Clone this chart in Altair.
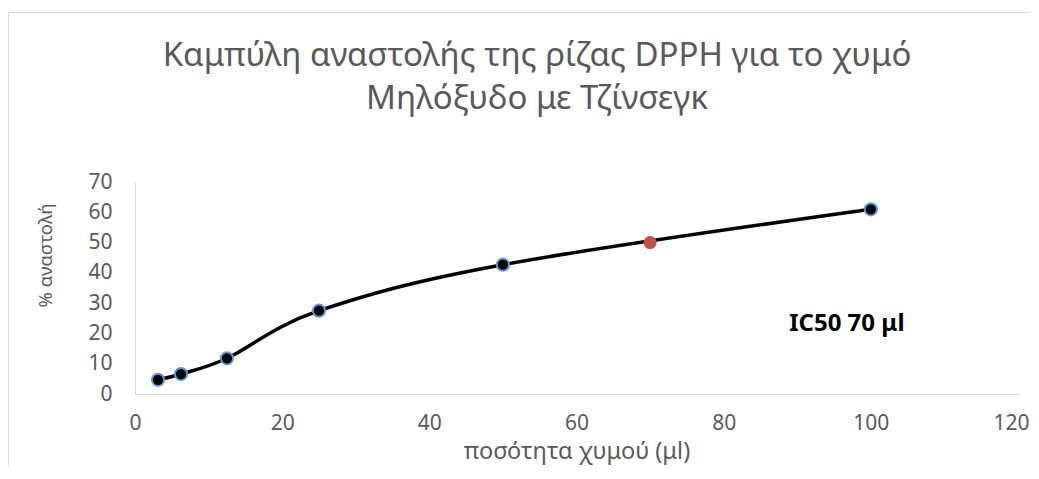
import altair as alt
import pandas as pd

# data
x_vals = [3.125, 6.25, 12.5, 25, 50, 100]
y_vals = [4.7, 6.6, 11.8, 27.5, 42.7, 61.0]
ic50_x = [70]
ic50_y = [50]
x_ticks = [0, 20, 40, 60, 80, 100, 120]
y_ticks = [0, 10, 20, 30, 40, 50, 60, 70]
title_lines = ["Καμπύλη αναστολής της ρίζας DPPH για το χυμό", "Μηλόξυδο με Τζίνσεγκ"]
note_text = ["IC50 70 μl"]
note_x = [88.9]
note_y = [20.9]

df = pd.DataFrame({"x": x_vals, "y": y_vals})
df_red = pd.DataFrame({"x": ic50_x, "y": ic50_y})
df_note = pd.DataFrame({"x": note_x, "y": note_y, "t": note_text})
df_title = pd.DataFrame({"t": ["\n".join(title_lines)]})

FONT = "Noto Sans"
GRAY = "#595959"

xs = alt.Scale(domain=[0, 120], nice=False)
ys = alt.Scale(domain=[0, 70], nice=False)

x_axis = alt.Axis(values=x_ticks, grid=False, ticks=False, labelFlush=False,
                  domainColor="#D9D9D9", labelColor=GRAY, labelFontSize=21, labelFont=FONT,
                  labelPadding=18, labelOverlap=False,
                  labelOffset=alt.condition("datum.value == 120", alt.value(-7), alt.value(0)),
                  title="ποσότητα χυμού (μl)", titleFont=FONT, titleFontSize=23.5,
                  titleFontWeight="normal", titleColor=GRAY, titleBaseline="alphabetic",
                  titleY=64)
y_axis = alt.Axis(values=y_ticks, grid=False, ticks=False, labelFlush=False,
                  domainColor="#D9D9D9", labelColor=GRAY, labelFontSize=21, labelFont=FONT,
                  labelPadding=23, labelOverlap=False,
                  title="% αναστολή", titleFont=FONT, titleFontSize=18.5,
                  titleFontWeight="normal", titleColor=GRAY, titleAngle=-90,
                  titleBaseline="middle", titleX=-90, titleY=73)

X = alt.X("x:Q", scale=xs, axis=x_axis)
Y = alt.Y("y:Q", scale=ys, axis=y_axis)

line = alt.Chart(df).mark_line(interpolate="cardinal", color="black",
                               strokeWidth=3.5).encode(x=X, y=Y)
pts = alt.Chart(df).mark_point(filled=True, fill="black", stroke="#5B9BD5", strokeWidth=2,
                               size=150, opacity=1, shape="circle").encode(x=X, y=Y)
red = alt.Chart(df_red).mark_point(filled=True, color="#C0504D", size=170, opacity=1,
                                   shape="circle").encode(x=X, y=Y)
note = alt.Chart(df_note).mark_text(align="left", baseline="alphabetic", font=FONT,
                                    fontSize=24, fontWeight="bold", color="black").encode(
    x=X, y=Y, text="t:N")

title = alt.Chart(df_title).mark_text(align="center", baseline="alphabetic", font=FONT,
                                      fontSize=33, color=GRAY, lineBreak="\n",
                                      lineHeight=43).encode(
    x=alt.value(402), y=alt.value(-115.7), text="t:N")

frame_left = alt.Chart(df_red).mark_rule(color="#D9D9D9", strokeWidth=1).encode(
    x=alt.value(-126.5), y=alt.value(-169.5), y2=alt.value(300))
frame_top = alt.Chart(df_red).mark_rule(color="#D9D9D9", strokeWidth=1).encode(
    x=alt.value(-126.5), x2=alt.value(1000), y=alt.value(-169.5))

chart = alt.layer(line, pts, red, note, title, frame_left, frame_top).properties(
    width=883, height=212,
    autosize=alt.AutoSizeParams(type="none"),
    padding={"left": 127, "top": 174, "right": 12, "bottom": 72},
).configure_view(stroke=None)

chart.save("out.html", embed_options={"renderer": "svg", "actions": False})
